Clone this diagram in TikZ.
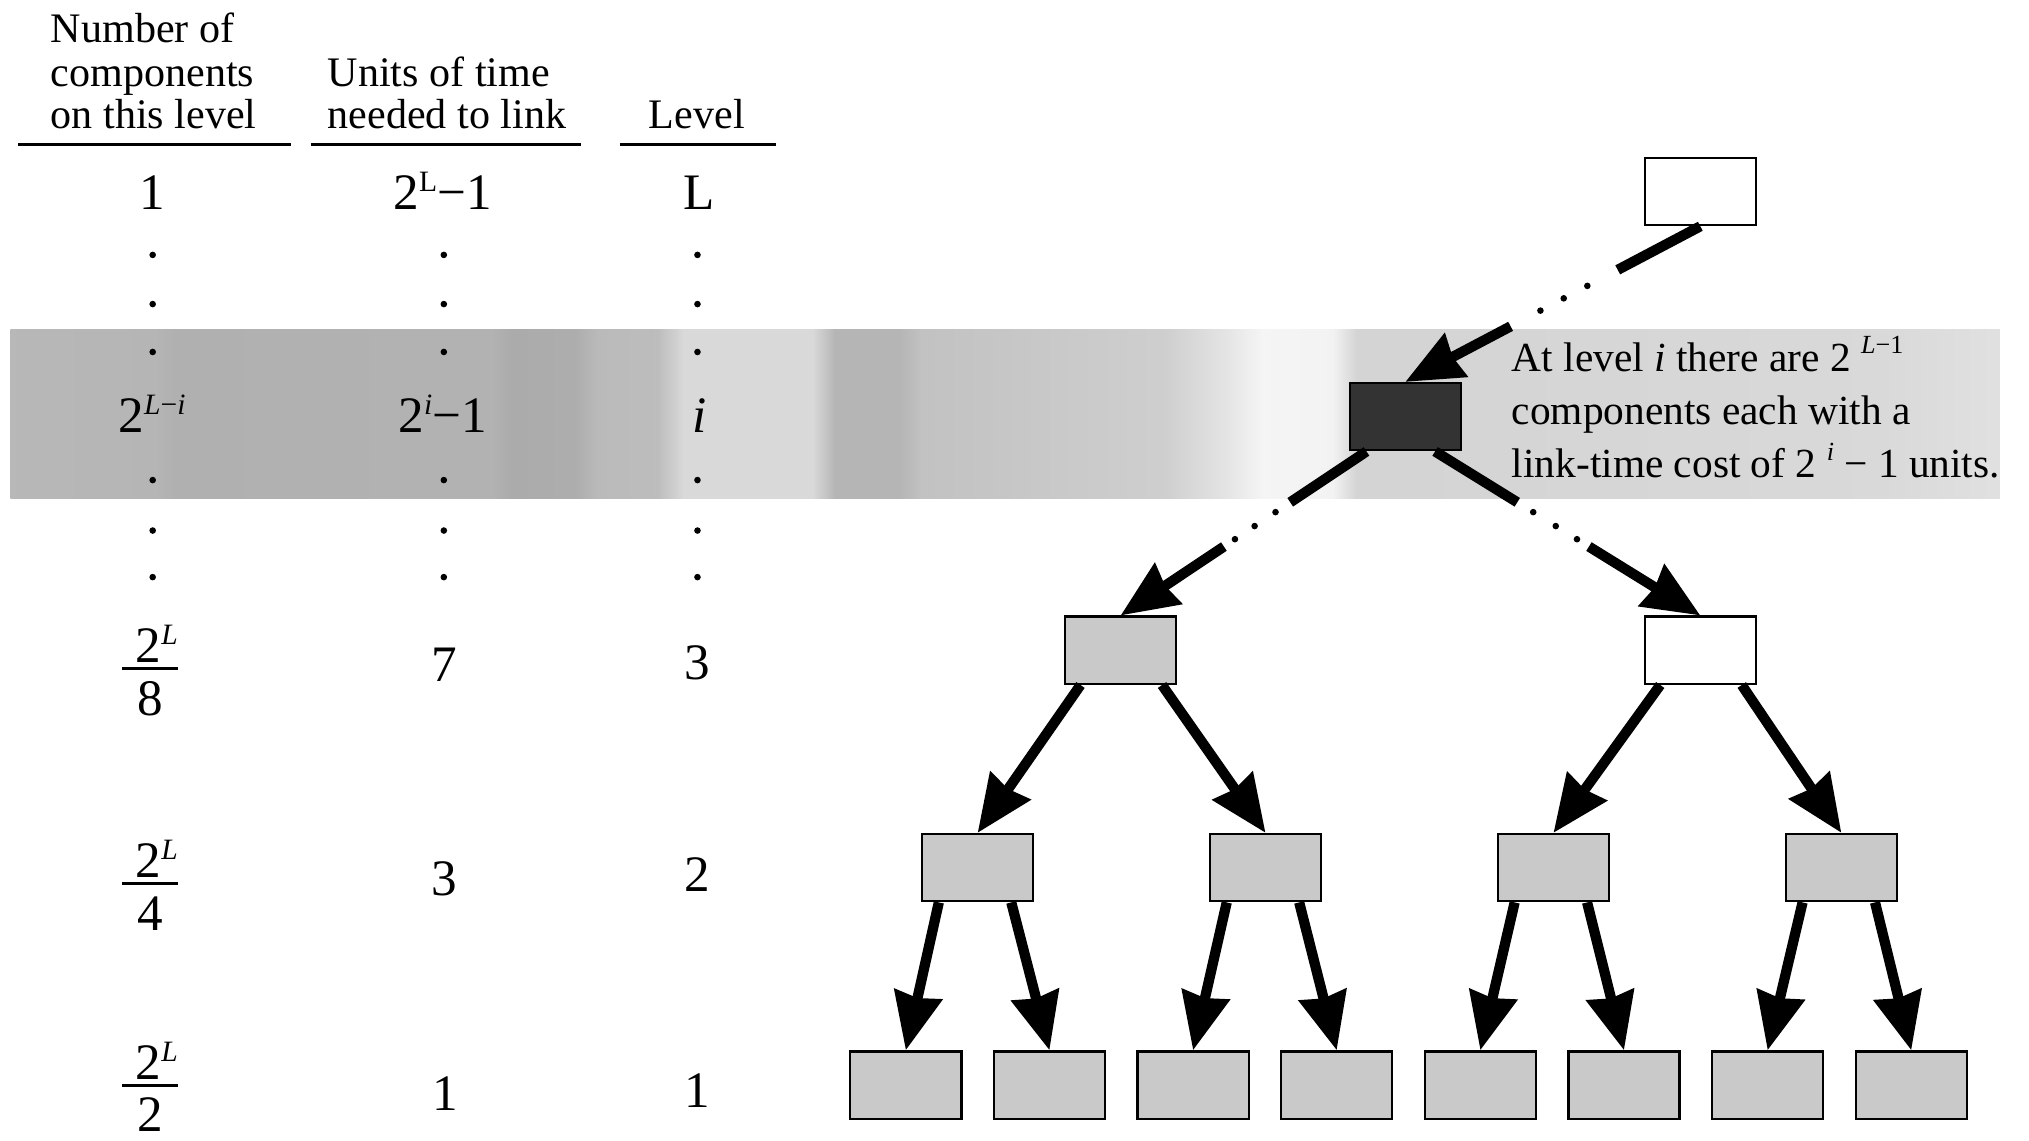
\documentclass[tikz,border=0pt]{standalone}
\usepackage{fontspec}
\setmainfont{Liberation Serif}
\usetikzlibrary{arrows.meta,calc}
\newcommand\supv[1]{\raisebox{0.36em}{\fontsize{13}{13}\selectfont #1}}
\newcommand\supa[1]{\raisebox{0.42em}{\fontsize{11.5}{11.5}\selectfont #1}}
\newcommand\frc[2]{\vbox{\halign{\hfil##\hfil\cr #1\cr\noalign{\kern1.8pt\hrule height 1.3pt\kern5pt}#2\cr}}}
\tikzset{
  hdr/.style={font=\fontsize{18.5}{19}\selectfont, inner sep=0pt},
  val/.style={font=\fontsize{22.5}{24}\selectfont, inner sep=0pt},
  ann/.style={font=\fontsize{18.2}{23}\selectfont, inner sep=0pt},
  comp/.style={draw=black, line width=1pt, minimum width=1.72cm, minimum height=1.04cm, inner sep=0pt, fill=black!21},
  shaft/.style={line width=4.5pt},
  link/.style={line width=4.5pt, -{Stealth[length=25pt,width=21pt,inset=1.5pt]}},
  hrul/.style={line width=1.2pt},
}
\begin{document}
\begin{tikzpicture}[x=0.02cm,y=-0.02cm]
\useasboundingbox (0,0) rectangle (1568,881);
% shaded band for level i (piecewise horizontal gradient)
\def\bandstops{8/28,120/29,135/31,380/30,395/33,445/32,462/27,508/26,528/15,628/15,645/29,695/29,712/24,900/19,950/10,975/4,1030/5,1048/17,1450/15,1545/12}
\def\px{}\def\pc{}
\foreach \x/\c in \bandstops {%
  \ifx\px\empty\else
    \shade[left color=black!\pc, right color=black!\c] (\px,255) rectangle (\x+0.5,385);
  \fi
  \xdef\px{\x}\xdef\pc{\c}%
}
% headers
\node[hdr, anchor=base west] (hA1) at (39,33) {Number of};
\node[hdr, anchor=base west] (hA2) at (39,67) {components};
\node[hdr, anchor=base west] (hA3) at (39,99.5) {on this level};
\node[hdr, anchor=base west] (hB1) at (253,67) {Units of time};
\node[hdr, anchor=base west] (hB2) at (253,99.5) {needed to link};
\node[hdr, anchor=base] (hC1) at (538.5,99.5) {Level};
\draw[hrul] (14,111.5) -- (225,111.5);
\draw[hrul] (240,111.5) -- (449,111.5);
\draw[hrul] (479,111.5) -- (600,111.5);
% table values
\node[val, anchor=base] (c1L) at (118,162) {1};
\node[val, anchor=base] (c2L) at (342,162) {2\supv{L}−1};
\node[val, anchor=base] (c3L) at (540,162) {L};
\node[val, anchor=base] (c1i) at (117.5,334.5) {2\supv{\textit{L}−\textit{i}}};
\node[val, anchor=base] (c2i) at (342,334.5) {2\supv{\textit{i}}−1};
\node[val, anchor=base] (c3i) at (541,334) {\textit{i}};
\node[val] (c13) at (116,518) {\frc{\kern6pt 2\supv{\textit{L}}}{8}};
\node[val, anchor=base] (c23) at (343,527) {7};
\node[val, anchor=base] (c33) at (539,525) {3};
\node[val] (c12) at (116,684) {\frc{\kern6pt 2\supv{\textit{L}}}{4}};
\node[val, anchor=base] (c22) at (343,692) {3};
\node[val, anchor=base] (c32) at (539,689) {2};
\node[val] (c11) at (116,840) {\frc{\kern6pt 2\supv{\textit{L}}}{2}};
\node[val, anchor=base] (c21) at (344,858) {1};
\node[val, anchor=base] (c31) at (539,856) {1};
% vertical ellipses
\foreach \x in {118,343,539}
  \foreach \y in {197,235,272,371,410,446}
    \fill (\x,\y) circle (1.45pt);
% tree
\node[comp, fill=white] (top) at (1314,148) {};
\node[comp, fill=black!80] (dk) at (1086,322) {};
\node[comp] (a1) at (866,502.5) {};
\node[comp, fill=white] (a2) at (1314,502.5) {};
\node[comp] (b1) at (755.5,670.5) {};
\node[comp] (b2) at (978,670.5) {};
\node[comp] (b3) at (1200.5,670.5) {};
\node[comp] (b4) at (1423,670.5) {};
\foreach \i/\x in {1/700,2/811,3/922,4/1033,5/1144,6/1255,7/1366,8/1477}
  \node[comp] (c\i) at (\x,838.5) {};
% top -> dark (with dotted middle)
\coordinate (s0) at (top.south);
\coordinate (e0) at (dk.north);
\draw[shaft] (s0) -- ($(s0)!0.28!(e0)$);
\foreach \t in {0.383,0.463,0.542} \fill ($(s0)!\t!(e0)$) circle (1.45pt);
\draw[link] ($(s0)!0.643!(e0)$) -- (e0);
% dark -> level 3
\coordinate (s1) at ($(dk.south)+(-30,0)$);
\coordinate (e1) at (a1.north);
\draw[shaft] (s1) -- ($(s1)!0.31!(e1)$);
\foreach \t in {0.37,0.455,0.535} \fill ($(s1)!\t!(e1)$) circle (1.45pt);
\draw[link] ($(s1)!0.58!(e1)$) -- (e1);
\coordinate (s2) at ($(dk.south)+(23,0)$);
\coordinate (e2) at (a2.north);
\draw[shaft] (s2) -- ($(s2)!0.31!(e2)$);
\foreach \t in {0.37,0.455,0.535} \fill ($(s2)!\t!(e2)$) circle (1.45pt);
\draw[link] ($(s2)!0.58!(e2)$) -- (e2);
% level 3 -> level 2
\draw[link] ($(a1.south)+(-31,0)$) -- (b1.north);
\draw[link] ($(a1.south)+(32,0)$) -- (b2.north);
\draw[link] ($(a2.south)+(-31,0)$) -- (b3.north);
\draw[link] ($(a2.south)+(32,0)$) -- (b4.north);
% level 2 -> level 1
\draw[link] ($(b1.south)+(-30,0)$) -- (c1.north);
\draw[link] ($(b1.south)+(26,0)$) -- (c2.north);
\draw[link] ($(b2.south)+(-30,0)$) -- (c3.north);
\draw[link] ($(b2.south)+(26,0)$) -- (c4.north);
\draw[link] ($(b3.south)+(-30,0)$) -- (c5.north);
\draw[link] ($(b3.south)+(26,0)$) -- (c6.north);
\draw[link] ($(b4.south)+(-30,0)$) -- (c7.north);
\draw[link] ($(b4.south)+(26,0)$) -- (c8.north);
% annotation
\node[ann, anchor=base west] (n1) at (1168,287) {At level \textit{i} there are 2 \supa{\textit{L}−1}};
\node[ann, anchor=base west] (n2) at (1168,328) {components each with a};
\node[ann, anchor=base west] (n3) at (1168,369) {link-time cost of 2 \supa{\textit{i}} − 1 units.};
\end{tikzpicture}
\end{document}
